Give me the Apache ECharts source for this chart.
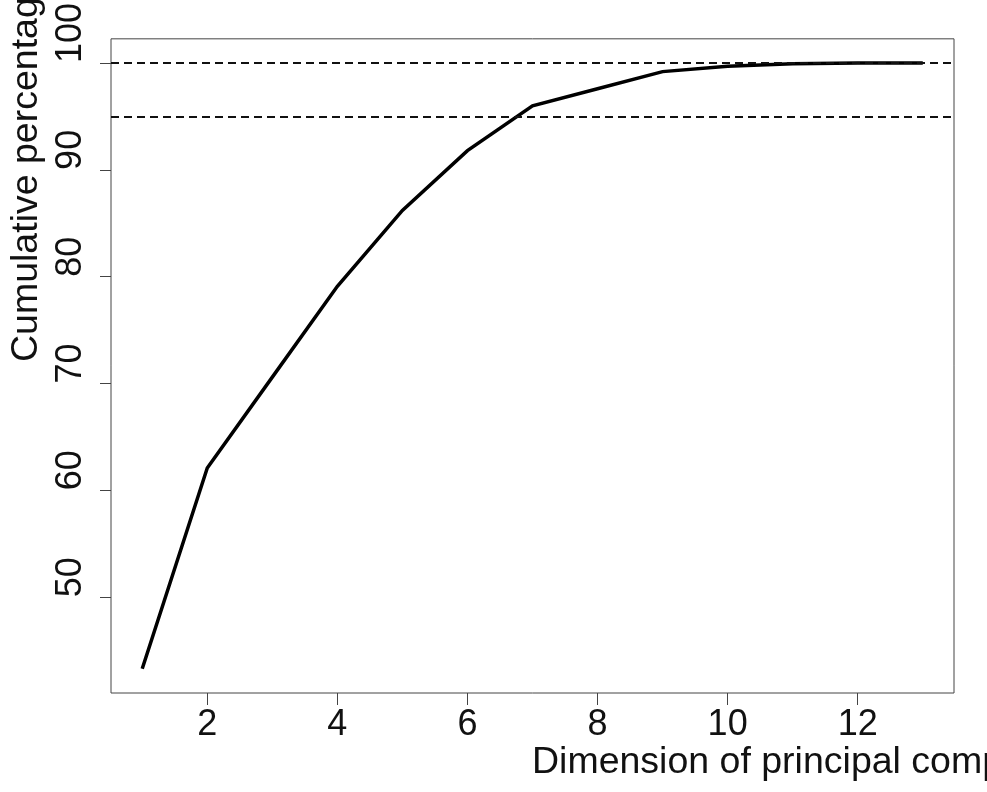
<!DOCTYPE html>
<html>
<head>
<meta charset="utf-8">
<script src="https://cdn.jsdelivr.net/npm/echarts@6/dist/echarts.min.js"></script>
<style>
  html, body { margin: 0; padding: 0; background: #fff; }
  #chart { width: 987px; height: 792px; }
</style>
</head>
<body>
<div id="chart"></div>
<script>
// principal component number and cumulative percentage
const dims = [1, 2, 3, 4, 5, 6, 7, 8, 9, 10, 11, 12, 13]
const cumPct = [43.3, 62.1, 70.6, 79.1, 86.2, 91.8, 96.0, 97.6, 99.2, 99.7, 99.93, 100, 100]
const thresholds = [95, 100]
const xTicks = [2, 4, 6, 8, 10, 12]
const yTicks = [50, 60, 70, 80, 90, 100]

const FONT = 'Liberation Sans, Arial, sans-serif'

// R style axis range: data range padded by 4% each side
const pad = (lo, hi) => [lo - (hi - lo) * 0.04, hi + (hi - lo) * 0.04]
const [xMin, xMax] = pad(Math.min(...dims), Math.max(...dims))
const [yMin, yMax] = pad(Math.min(...cumPct), Math.max(...cumPct))

const chart = echarts.init(document.getElementById('chart'), null, { renderer: 'canvas' })

chart.setOption({
  animation: false,
  backgroundColor: '#fff',
  grid: {
    left: 111, top: 36, right: 33, bottom: 99,
    show: true, borderColor: '#444', borderWidth: 1, backgroundColor: 'transparent'
  },
  xAxis: {
    type: 'value', min: xMin, max: xMax,
    axisLine: { show: false },
    splitLine: { show: false },
    axisTick: { show: true, customValues: xTicks, length: 12, inside: false, lineStyle: { color: '#444', width: 1 } },
    axisLabel: {
      customValues: xTicks, margin: 14, color: '#111',
      fontSize: 36, fontFamily: FONT
    }
  },
  yAxis: {
    type: 'value', min: yMin, max: yMax,
    axisLine: { show: false },
    splitLine: { show: false },
    axisTick: { show: true, customValues: yTicks, length: 11, inside: false, lineStyle: { color: '#444', width: 1 } },
    axisLabel: {
      customValues: yTicks, rotate: 90, margin: 22, color: '#111',
      fontSize: 36, fontFamily: FONT, align: 'left', verticalAlign: 'bottom'
    }
  },
  series: [{
    type: 'line',
    data: dims.map((d, i) => [d, cumPct[i]]),
    symbol: 'none',
    lineStyle: { color: '#000', width: 3.5, cap: 'butt', join: 'miter' },
    markLine: {
      silent: true,
      symbol: 'none',
      label: { show: false },
      lineStyle: { color: '#111', width: 2, type: [8, 5] },
      data: thresholds.map(v => ({ yAxis: v }))
    }
  }],
  graphic: [
    {
      type: 'text', left: 532, top: 744,
      style: { text: 'Dimension of principal components', font: '37.5px ' + FONT, fill: '#111' }
    },
    {
      type: 'text', x: 27, y: 362, rotation: Math.PI / 2,
      style: {
        text: 'Cumulative percentage', font: '37.5px ' + FONT, fill: '#111',
        textAlign: 'left', textVerticalAlign: 'middle'
      }
    }
  ]
})
</script>
</body>
</html>
